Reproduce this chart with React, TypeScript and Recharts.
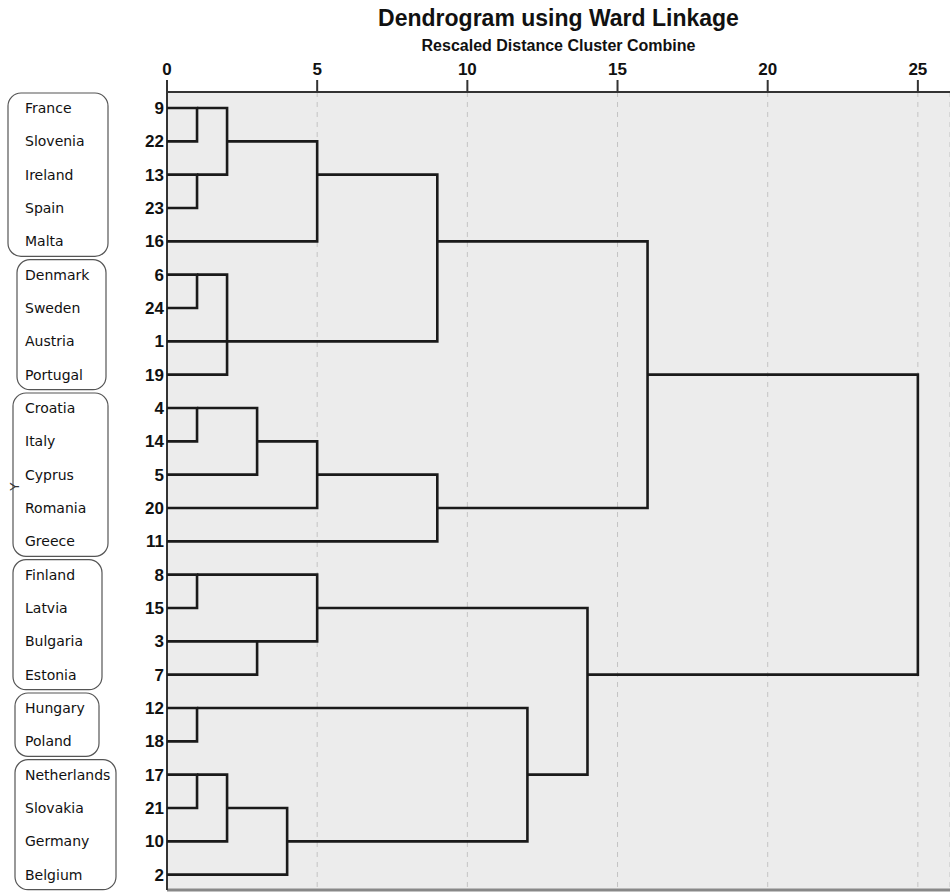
import React from "react";
import {
  ScatterChart,
  Scatter,
  XAxis,
  YAxis,
  CartesianGrid,
  ReferenceArea,
  ReferenceLine,
} from "recharts";

// leaf order top to bottom (case numbers) and their country names
const LEAF_IDS = ["9", "22", "13", "23", "16", "6", "24", "1", "19", "4", "14", "5", "20", "11", "8", "15", "3", "7", "12", "18", "17", "21", "10", "2"];
const COUNTRIES = ["France", "Slovenia", "Ireland", "Spain", "Malta", "Denmark", "Sweden", "Austria", "Portugal", "Croatia", "Italy", "Cyprus", "Romania", "Greece", "Finland", "Latvia", "Bulgaria", "Estonia", "Hungary", "Poland", "Netherlands", "Slovakia", "Germany", "Belgium"];
const X_TICKS = [0, 5, 10, 15, 20, 25];

// clusters 0-23 are the leaves (by row), merge i creates cluster 24 + i
const MERGE_LEFT = [0, 2, 24, 26, 5, 7, 28, 27, 9, 32, 33, 34, 31, 14, 16, 37, 18, 20, 41, 42, 40, 39, 36];
const MERGE_RIGHT = [1, 3, 25, 4, 6, 8, 29, 30, 10, 11, 12, 13, 35, 15, 17, 38, 19, 21, 22, 23, 43, 44, 45];
const MERGE_DIST = [1, 1, 2, 5, 1, 2, 2, 9, 1, 3, 5, 9, 16, 1, 3, 5, 1, 1, 2, 4, 12, 14, 25];
const MERGE_ROW = [0, 2, 1, 2, 5, 7, 7, 4, 9, 10, 11, 12, 8, 14, 16, 15, 18, 20, 21, 22, 20, 17, 12];

// bracketed groups of countries (first row, last row)
const GROUP_FIRST = [0, 5, 9, 14, 18, 20];
const GROUP_LAST = [4, 8, 13, 17, 19, 23];

const BOX_LEFT = [8, 17, 13, 13, 15, 15];
const BOX_RIGHT = [108, 106, 108, 102, 99, 116];
const NAME_X = 25;
const X_MAX = 26.07;
const Y_MIN = -0.48;
const Y_MAX = 23.46;

const ROWS = LEAF_IDS.map((_, i) => i);

const distOf = (c: number) => (c < 24 ? 0 : MERGE_DIST[c - 24]);
const rowOf = (c: number) => (c < 24 ? c : MERGE_ROW[c - 24]);

const LINKS = MERGE_DIST.map((d, i) => {
  const a = MERGE_LEFT[i];
  const b = MERGE_RIGHT[i];
  return [
    { x: distOf(a), y: rowOf(a) },
    { x: d, y: rowOf(a) },
    { x: d, y: rowOf(b) },
    { x: distOf(b), y: rowOf(b) },
  ];
});

const NoDot = () => <g />;

const LeafTick = (props: any) => {
  const { x, y, payload } = props;
  const row = payload.value;
  return (
    <g>
      <text x={x} y={y} dy="0.36em" textAnchor="end" fontSize={17} fontWeight={700} fill="#111">
        {LEAF_IDS[row]}
      </text>
      <text x={NAME_X} y={y} dy="0.36em" fontSize={14} fontFamily="'DejaVu Sans', sans-serif" fill="#111">
        {COUNTRIES[row]}
      </text>
    </g>
  );
};

const App = () => {
  return (
    <div
      style={{
        position: "absolute",
        left: 0,
        top: 0,
        width: 950,
        height: 893,
        background: "#fff",
        fontFamily: "'Liberation Sans', Arial, sans-serif",
      }}
    >
      <div style={{ position: "absolute", left: 167, top: 7, width: 783, textAlign: "center", fontSize: 23, lineHeight: "23px", fontWeight: 700, color: "#111" }}>
        Dendrogram using Ward Linkage
      </div>
      <div style={{ position: "absolute", left: 167, top: 38, width: 783, textAlign: "center", fontSize: 16, lineHeight: "16px", fontWeight: 700, color: "#111" }}>
        Rescaled Distance Cluster Combine
      </div>
      <ScatterChart
        width={950}
        height={893}
        margin={{ top: 62, right: 0, bottom: 3, left: 0 }}
        style={{ fontFamily: "'Liberation Sans', Arial, sans-serif" }}
      >
        <CartesianGrid horizontal={false} stroke="#c4c4c4" strokeDasharray="5 5" fill="#ececec" />
        <XAxis
          type="number"
          dataKey="x"
          orientation="top"
          domain={[0, X_MAX]}
          ticks={X_TICKS}
          allowDataOverflow
          height={30}
          tickSize={12}
          tickMargin={5}
          axisLine={{ stroke: "#333", strokeWidth: 2 }}
          tickLine={{ stroke: "#333", strokeWidth: 2 }}
          tick={{ fontSize: 17, fontWeight: 700, fill: "#111" }}
        />
        <YAxis
          type="number"
          dataKey="y"
          domain={[Y_MIN, Y_MAX]}
          reversed
          allowDataOverflow
          ticks={ROWS}
          interval={0}
          width={167}
          tickLine={false}
          tickSize={0}
          tickMargin={3}
          tick={<LeafTick />}
          axisLine={{ stroke: "#333", strokeWidth: 2 }}
          label={{ value: "Y", angle: -90, position: "insideLeft", offset: 14, fontSize: 13, fill: "#333" }}
        />
        <ReferenceLine y={Y_MAX} stroke="#888" strokeWidth={3} />
        {GROUP_FIRST.map((first, i) => (
          <ReferenceArea
            key={"box" + i}
            y1={first - 0.45}
            y2={GROUP_LAST[i] + 0.45}
            ifOverflow="visible"
            shape={(p: any) => (
              <rect
                x={BOX_LEFT[i]}
                y={p.y}
                width={BOX_RIGHT[i] - BOX_LEFT[i]}
                height={p.height}
                rx={13}
                ry={13}
                fill="none"
                stroke="#555"
                strokeWidth={1.2}
              />
            )}
          />
        ))}
        {LINKS.map((pts, i) => (
          <Scatter
            key={"link" + i}
            data={pts}
            line={{ stroke: "#1a1a1a", strokeWidth: 2.6 }}
            shape={<NoDot />}
            isAnimationActive={false}
          />
        ))}
      </ScatterChart>
    </div>
  );
};

export default App;
